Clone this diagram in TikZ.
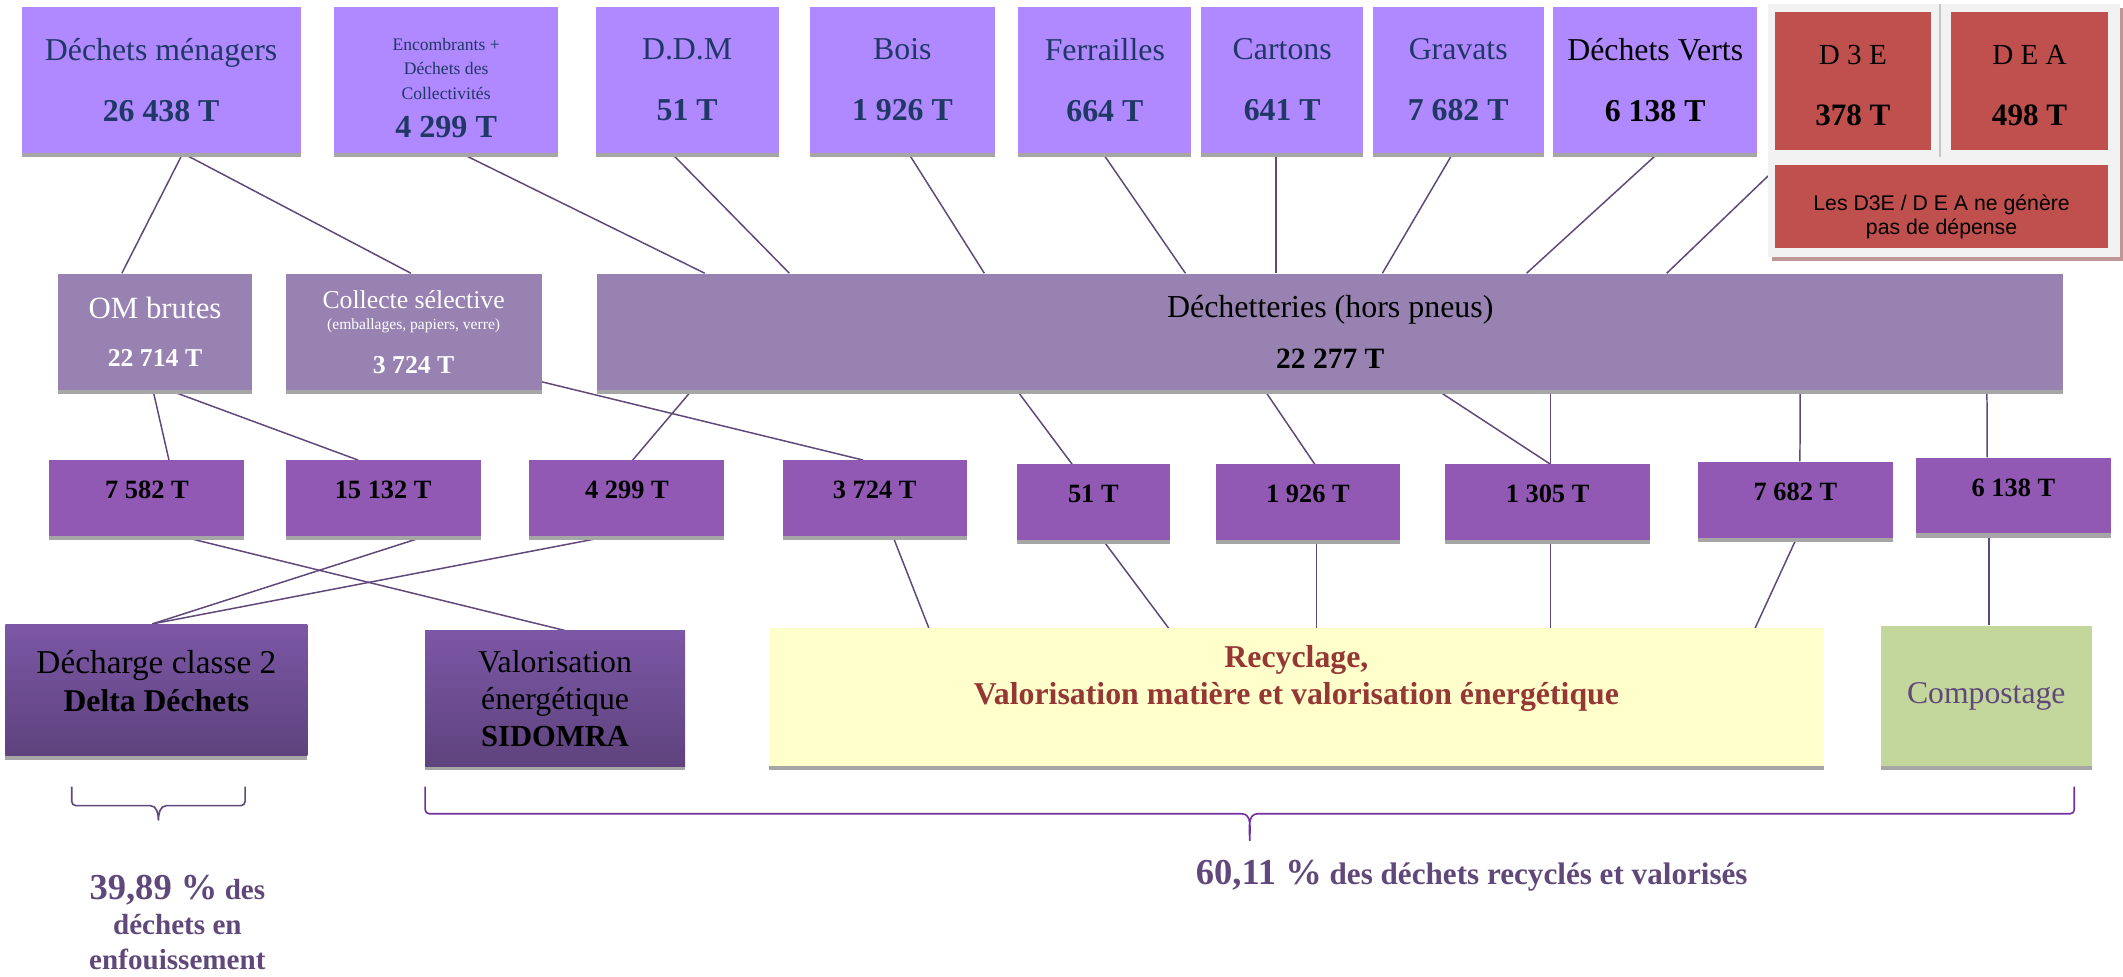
\documentclass[tikz,border=0pt]{standalone}
\usepackage{fontspec}
\setmainfont{Liberation Serif}
\newfontfamily\notefont{Liberation Sans}
\usepackage{tikz}
\usetikzlibrary{shapes,shadows,backgrounds}

\definecolor{srcfill}{RGB}{176,136,255}
\definecolor{srctext}{RGB}{31,56,100}
\definecolor{colfill}{RGB}{152,130,178}
\definecolor{tonfill}{RGB}{145,89,179}
\definecolor{desttop}{RGB}{124,87,166}
\definecolor{destbot}{RGB}{94,67,125}
\definecolor{linecol}{RGB}{96,73,122}
\definecolor{redfill}{RGB}{192,80,77}
\definecolor{recfill}{RGB}{255,255,204}
\definecolor{rectext}{RGB}{149,55,53}
\definecolor{compfill}{RGB}{195,214,155}
\definecolor{bracecol}{RGB}{112,48,160}
\definecolor{shadecol}{RGB}{166,166,166}
\definecolor{framefill}{RGB}{242,242,242}
\definecolor{frameshade}{RGB}{190,150,150}

\tikzstyle{line} = [draw, linecol, line width=1.1pt]
\tikzstyle{sep_line} = [draw, gray!45, line width=1.5pt]
\tikzstyle{flat_shadow} = [drop shadow={shadow xshift=0pt, shadow yshift=-3pt, fill=shadecol, opacity=1}]
\tikzstyle{src} = [rectangle, fill=srcfill, flat_shadow, inner sep=0pt, minimum height=108pt, align=flush center, text=srctext, font=\fontsize{23.5}{45}\selectfont]
\tikzstyle{red_box} = [rectangle, fill=redfill, inner sep=0pt, minimum height=102pt, align=flush center, text=black, text height=20pt, font=\fontsize{21.5}{45}\selectfont]
\tikzstyle{col} = [rectangle, fill=colfill, flat_shadow, inner sep=0pt, minimum height=86pt, align=flush center, text=white]
\tikzstyle{ton} = [rectangle, fill=tonfill, flat_shadow, inner sep=0pt, text width=144pt, minimum height=56pt, align=flush center, text depth=12pt, font=\bfseries\fontsize{19.5}{24}\selectfont]
\tikzstyle{dest} = [rectangle, top color=desttop, bottom color=destbot, flat_shadow, inner sep=0pt, align=flush center, text=black]
\tikzstyle{pct} = [align=flush center, text=linecol, font=\bfseries\fontsize{21.5}{26}\selectfont]
\tikzstyle{brace_a} = [draw, linecol, line width=1.2pt]
\tikzstyle{brace_b} = [draw, bracecol, line width=1.2pt]

\begin{document}
\begin{tikzpicture}
\useasboundingbox (0,0) rectangle (1568pt,-721pt);

% sources
\node [src, text width=206pt] (dm) at (119pt,-59pt) {Déchets ménagers\\ \textbf{26 438 T}};
\node [src, text width=165pt, right of=dm, node distance=210.5pt, text height=21pt, font=\fontsize{13}{18}\selectfont] (enc) {Encombrants +\\ Déchets des\\ Collectivités\\[10pt] {\bfseries\fontsize{23.7}{28}\selectfont 4 299 T}};
\node [src, text width=135pt, right of=enc, node distance=178pt] (ddm) {D.D.M\\ \textbf{51 T}};
\node [src, text width=137pt, right of=ddm, node distance=159pt] (bois) {Bois\\ \textbf{1 926 T}};
\node [src, text width=128pt, right of=bois, node distance=149.5pt] (ferr) {Ferrailles\\ \textbf{664 T}};
\node [src, text width=120pt, right of=ferr, node distance=131pt] (cart) {Cartons\\ \textbf{641 T}};
\node [src, text width=126pt, right of=cart, node distance=130pt] (grav) {Gravats\\ \textbf{7 682 T}};
\node [src, text width=151pt, right of=grav, node distance=145.5pt, text=black] (verts) {Déchets Verts\\ \textbf{6 138 T}};

\node [rectangle, fill=framefill, inner sep=0pt, text width=260pt, minimum height=187pt, drop shadow={shadow xshift=2.5pt, shadow yshift=-3pt, fill=frameshade, opacity=1}, right of=verts, node distance=213.5pt, yshift=-37.5pt] (rg) {};
\path [sep_line] ([xshift=-3pt]rg.north) to ([xshift=-3pt, yshift=-113pt]rg.north);
\node [red_box, text width=115pt, right of=verts, node distance=146pt, yshift=-1pt] (d3e) {D 3 E\\ {\bfseries\fontsize{23}{45}\selectfont 378 T}};
\node [red_box, text width=116pt, right of=d3e, node distance=130.5pt] (dea) {D E A\\ {\bfseries\fontsize{23}{45}\selectfont 498 T}};
\node [rectangle, fill=redfill, inner sep=0pt, text width=246pt, minimum height=61pt, align=flush center, text height=27pt, font=\notefont\fontsize{15.7}{18}\selectfont, below of=d3e, node distance=92.5pt, xshift=65.5pt] (note) {Les D3E / D E A ne génère\\ pas de dépense};

% collectes
\node [col, text width=143pt, below of=dm, node distance=186pt, xshift=-4.5pt, font=\fontsize{22.8}{35}\selectfont] (om) {OM brutes\\ {\bfseries\fontsize{19}{35}\selectfont 22 714 T}};
\node [col, text width=189pt, right of=om, node distance=191pt, font=\fontsize{19}{16}\selectfont] (cs) {Collecte sélective\\ {\fontsize{11.5}{16}\selectfont (emballages, papiers, verre)}\\[16pt] \textbf{3 724 T}};
\node [col, text width=1083pt, right of=cs, node distance=677pt, text=black, font=\fontsize{23.6}{38}\selectfont] (dech) {Déchetteries (hors pneus)\\ {\bfseries\fontsize{21.8}{38}\selectfont 22 277 T}};

% tonnages
\node [ton, below of=om, node distance=123pt, xshift=-6pt] (t1) {7 582 T};
\node [ton, right of=t1, node distance=174.5pt] (t2) {15 132 T};
\node [ton, right of=t2, node distance=180pt] (t3) {4 299 T};
\node [ton, text width=136pt, right of=t3, node distance=183pt] (t4) {3 724 T};
\node [ton, text width=113pt, right of=t4, node distance=161.5pt, yshift=-3pt] (t5) {51 T};
\node [ton, text width=136pt, right of=t5, node distance=158.5pt] (t6) {1 926 T};
\node [ton, text width=151pt, right of=t6, node distance=177pt] (t7) {1 305 T};
\node [ton, right of=t7, node distance=183pt, yshift=2pt] (t8) {7 682 T};
\node [ton, right of=t8, node distance=161pt, yshift=3pt] (t9) {6 138 T};

% destinations
\node [dest, text width=223pt, minimum height=97pt, text depth=41pt, font=\fontsize{24.6}{28}\selectfont, below of=t1, node distance=141.5pt, xshift=7pt] (dc) {Décharge classe 2\\ {\bfseries\fontsize{23.4}{28}\selectfont Delta Déchets}};
\node [dest, text width=192pt, minimum height=100pt, font=\fontsize{23.5}{27.5}\selectfont, right of=dc, node distance=294.5pt, yshift=-6.5pt] (valo) {Valorisation\\ énergétique\\ {\bfseries\fontsize{22.6}{27.5}\selectfont SIDOMRA}};
\node [rectangle, fill=recfill, flat_shadow, inner sep=0pt, text width=779pt, minimum height=102pt, align=flush center, text=rectext, text depth=61pt, font=\bfseries\fontsize{23.5}{28}\selectfont, right of=valo, node distance=547.5pt, yshift=1pt] (recyc) {Recyclage,\\ Valorisation matière et valorisation énergétique};
\node [rectangle, fill=compfill, flat_shadow, inner sep=0pt, text width=156pt, minimum height=104pt, align=flush center, text=linecol, font=\fontsize{23.4}{28}\selectfont, right of=recyc, node distance=509.5pt, yshift=1pt] (comp) {Compostage};

% bilans
\coordinate (bl1) at (53pt,-581pt);
\coordinate (br1) at (314pt,-581pt);
\draw [brace_a] (bl1) -- ++(0,-11pt) to[out=-90,in=180] ++(3pt,-3pt) -- ++(55pt,0) to[out=0,in=90] ++(6pt,-11pt) to[out=90,in=180] ++(6pt,11pt) -- ++(55pt,0) to[out=0,in=-90] ++(3pt,3pt) -- ++(0,11pt);
\draw [brace_b] (br1) -- ++(0,-17pt) to[out=-90,in=180] ++(3pt,-3pt) -- ++(600pt,0) to[out=0,in=90] ++(6pt,-20pt) to[out=90,in=180] ++(6pt,20pt) -- ++(600pt,0) to[out=0,in=-90] ++(3pt,3pt) -- ++(0,17pt);
\node [pct, below of=dc, node distance=172pt, xshift=15.5pt] (pct1) {{\fontsize{27}{26}\selectfont 39,89 \%} des\\ déchets en\\ enfouissement};
\node [pct, font=\bfseries\fontsize{23}{27}\selectfont, below of=recyc, node distance=132pt, xshift=129.5pt] (pct2) {{\fontsize{27}{27}\selectfont 60,11 \%} des déchets recyclés et valorisés};

\begin{scope}[on background layer]
\path [line] ([xshift=16pt]dm.south) to ([xshift=-24.5pt]om.north);
\path [line] ([xshift=16pt]dm.south) to ([xshift=-2pt]cs.north);
\path [line] ([xshift=11pt]enc.south) to ([xshift=-462pt]dech.north);
\path [line] ([xshift=-11.5pt]ddm.south) to ([xshift=-399.5pt]dech.north);
\path [line] ([xshift=4.5pt]bois.south) to ([xshift=-255.5pt]dech.north);
\path [line] ([xshift=-1.5pt]ferr.south) to ([xshift=-107pt]dech.north);
\path [line] ([xshift=-4.5pt]cart.south) to ([xshift=-40pt]dech.north);
\path [line] ([xshift=-4pt]grav.south) to ([xshift=38.5pt]dech.north);
\path [line] ([xshift=2pt]verts.south) to ([xshift=145pt]dech.north);
\path [line] ([yshift=-33.5pt]rg.west) to ([xshift=248.5pt]dech.north);

\path [line] ([xshift=-1.5pt]om.south) to ([xshift=16.3pt]t1.north);
\path [line] ([xshift=10.3pt]om.south) to ([xshift=-18.5pt]t2.north);
\path [line] ([yshift=-37pt]cs.east) to ([xshift=-8.5pt]t4.north);
\path [line] ([xshift=-471.5pt]dech.south) to ([xshift=4.3pt]t3.north);
\path [line] ([xshift=-231.5pt]dech.south) to ([xshift=-15.7pt]t5.north);
\path [line] ([xshift=-48.5pt]dech.south) to ([xshift=5pt]t6.north);
\path [line] ([xshift=79pt]dech.south) to ([xshift=2pt]t7.north);
\path [line] ([xshift=162.5pt]dech.south) to ([xshift=2pt]t7.north);
\path [line] ([xshift=347pt]dech.south) to ([xshift=3.4pt]t8.north);
\path [line] ([xshift=485pt]dech.south) to ([xshift=-19.3pt]t9.north);

\path [line] ([xshift=25.5pt]t1.south) to ([xshift=7.8pt]valo.north);
\path [line] ([xshift=30.7pt]t2.south) to ([xshift=-3pt]dc.north);
\path [line] ([xshift=-13.7pt]t3.south) to ([xshift=-3pt]dc.north);
\path [line] ([xshift=13.5pt]t4.south) to ([xshift=-271.5pt]recyc.north);
\path [line] ([xshift=7.3pt]t5.south) to ([xshift=-94.5pt]recyc.north);
\path [line] ([xshift=6.5pt]t6.south) to ([xshift=15pt]recyc.north);
\path [line] ([xshift=2pt]t7.south) to ([xshift=187.5pt]recyc.north);
\path [line] ([xshift=1pt]t8.south) to ([xshift=338.8pt]recyc.north);
\path [line] ([xshift=-18pt]t9.south) to ([xshift=2pt]comp.north);
\end{scope}

\end{tikzpicture}
\end{document}
